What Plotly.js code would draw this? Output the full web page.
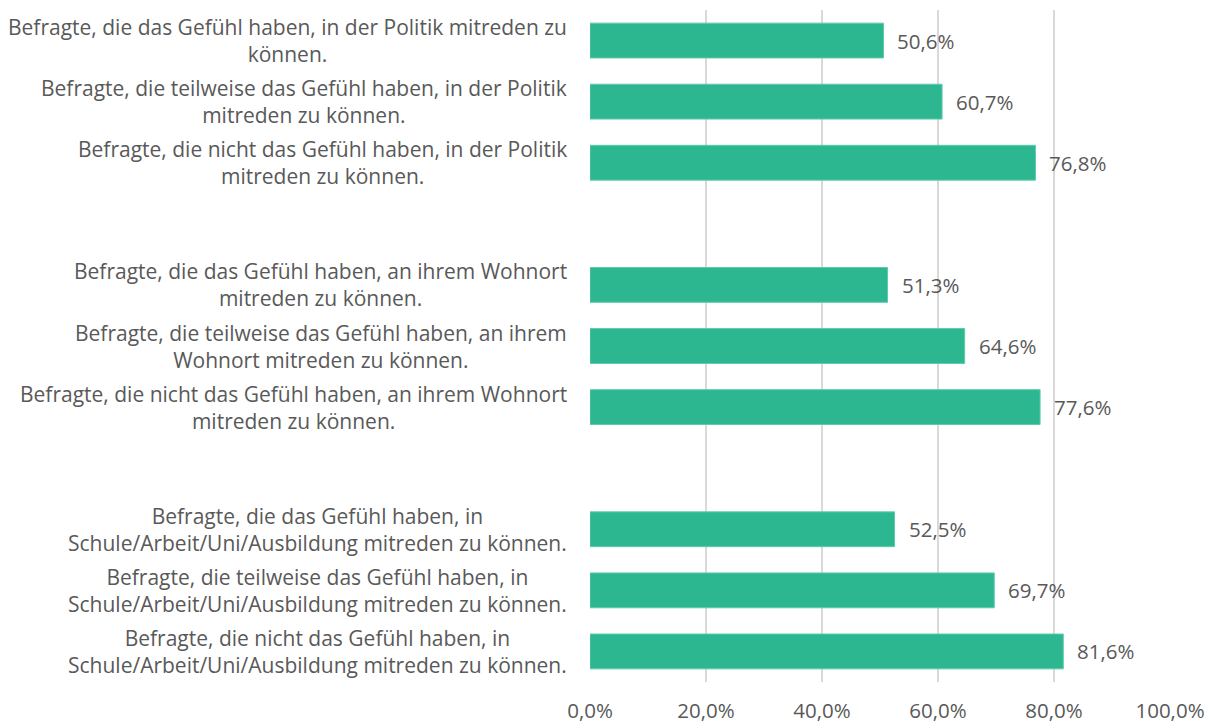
<!DOCTYPE html>
<html>
<head>
<meta charset="utf-8">
<script src="https://cdn.plot.ly/plotly-3.0.1.min.js"></script>
<style>html,body{margin:0;padding:0;background:#fff;}#chart{width:1208px;height:722px;}</style>
</head>
<body>
<div id="chart"></div>
<script>
// Categories (top to bottom); whitespace spacers separate the three groups
const categories = [
  "Befragte, die das Gefühl haben, in der Politik mitreden zu<br>können.",
  "Befragte, die teilweise das Gefühl haben, in der Politik<br>mitreden zu können.",
  "Befragte, die nicht das Gefühl haben, in der Politik<br>mitreden zu können.",
  " ",
  "Befragte, die das Gefühl haben, an ihrem Wohnort<br>mitreden zu können.",
  "Befragte, die teilweise das Gefühl haben, an ihrem<br>Wohnort mitreden zu können.",
  "Befragte, die nicht das Gefühl haben, an ihrem Wohnort<br>mitreden zu können.",
  "  ",
  "Befragte, die das Gefühl haben, in<br>Schule/Arbeit/Uni/Ausbildung mitreden zu können.",
  "Befragte, die teilweise das Gefühl haben, in<br>Schule/Arbeit/Uni/Ausbildung mitreden zu können.",
  "Befragte, die nicht das Gefühl haben, in<br>Schule/Arbeit/Uni/Ausbildung mitreden zu können."
];
const values = [50.6, 60.7, 76.8, null, 51.3, 64.6, 77.6, null, 52.5, 69.7, 81.6];
const tickValues = [0, 20, 40, 60, 80, 100];
const tickLabels = ["0,0%", "20,0%", "40,0%", "60,0%", "80,0%", "100,0%"];

const FONT = "'Open Sans', 'Liberation Sans', sans-serif";
const TXT = "#595959";
const FS = 21;

const trace = {
  type: "bar",
  orientation: "h",
  x: values,
  y: categories,
  marker: {color: "#2db791", line: {color: "#5fcaa8", width: 1}},
  hoverinfo: "none"
};

const annotations = [];
categories.forEach((c, i) => {
  if (values[i] === null) return;
  annotations.push({
    xref: "paper", yref: "y", x: 0, y: c,
    xanchor: "right", yanchor: "middle", xshift: -21,
    align: "center", showarrow: false,
    text: c, font: {family: FONT, size: FS, color: TXT}
  });
  annotations.push({
    xref: "x", yref: "y", x: values[i], y: c,
    xanchor: "left", yanchor: "middle", xshift: 12,
    showarrow: false,
    text: values[i].toFixed(1).replace(".", ",") + "%",
    font: {family: FONT, size: FS - 0.5, color: TXT}
  });
});

const layout = {
  width: 1208, height: 722,
  margin: {l: 590, r: 38, t: 10, b: 40},
  paper_bgcolor: "#ffffff", plot_bgcolor: "#ffffff",
  showlegend: false,
  bargap: 0.43,
  font: {family: FONT, size: FS, color: TXT},
  xaxis: {
    range: [0, 100], tickmode: "array", tickvals: tickValues, ticktext: tickLabels,
    showgrid: true, gridcolor: "#d9d9d9", gridwidth: 1.5,
    zeroline: false, showline: false, ticks: "",
    ticklabelstandoff: 14,
    tickfont: {family: FONT, size: FS - 0.5, color: TXT}
  },
  yaxis: {
    type: "category", categoryorder: "array", categoryarray: categories,
    autorange: "reversed", showticklabels: false, showgrid: false,
    zeroline: false, showline: false, ticks: ""
  },
  annotations: annotations
};

Plotly.newPlot("chart", [trace], layout, {displayModeBar: false, staticPlot: true});
</script>
</body>
</html>
